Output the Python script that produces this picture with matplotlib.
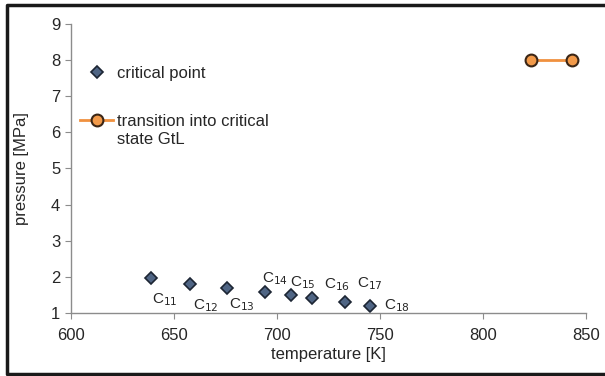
import matplotlib
matplotlib.use("Agg")
import matplotlib.pyplot as plt
from matplotlib.lines import Line2D

plt.rcParams['font.family'] = ['Liberation Sans', 'DejaVu Sans']

# critical points of n-alkanes
temps = [639, 658, 676, 694, 707, 717, 733, 745]
press = [1.97, 1.81, 1.69, 1.59, 1.49, 1.41, 1.31, 1.20]
names = ["11", "12", "13", "14", "15", "16", "17", "18"]
# label offsets in pixels (dx, dy)
offs = [(1, -22), (3, -22), (2, -17), (-3, 13), (-1, 12), (12, 13), (12, 18), (14, 0)]

# transition into critical state GtL
gtl_t = [823, 843]
gtl_p = [8.0, 8.0]

fig = plt.figure(figsize=(6.05, 3.76), dpi=100)
ax = fig.add_axes([0.117, 0.168, 0.852, 0.768])

ax.plot(temps, press, linestyle="none", marker="D", markersize=6,
        markerfacecolor="#4f6584", markeredgecolor="#1c2533", markeredgewidth=1.2,
        label="critical point")
ax.plot(gtl_t, gtl_p, color="#f0913f", linewidth=2, marker="o", markersize=8.5,
        markerfacecolor="#f29a4a", markeredgecolor="#3b2616", markeredgewidth=1.5,
        label="transition into critical")

for t, p, n, (dx, dy) in zip(temps, press, names, offs):
    ax.annotate("C$_{" + n + "}$", (t, p), xytext=(dx, dy), textcoords="offset pixels",
                ha="left", va="center", fontsize=11, color="#262626")

ax.set_xlim(600, 850)
ax.set_ylim(1, 9)
ax.set_xticks([600, 650, 700, 750, 800, 850])
ax.set_yticks(range(1, 10))
ax.set_xlabel("temperature [K]", fontsize=12, color="#262626", labelpad=3)
ax.set_ylabel("pressure [MPa]", fontsize=12, color="#262626", labelpad=16)

for s in ["top", "right"]:
    ax.spines[s].set_visible(False)
for s in ["left", "bottom"]:
    ax.spines[s].set_color("#8c8c8c")
    ax.spines[s].set_linewidth(1)
ax.tick_params(colors="#8c8c8c", labelcolor="#262626", labelsize=12, length=4, direction="out")
ax.tick_params(axis="x", pad=7)

leg = ax.legend(loc="upper left", bbox_to_anchor=(0.0, 0.886), frameon=False, fontsize=12,
                handlelength=2.0, labelspacing=1.95, handletextpad=0.25, borderaxespad=0.3,
                borderpad=0.25)
for txt in leg.get_texts():
    txt.set_color("#262626")

# second line of the GtL legend entry, placed under the first line
fig.canvas.draw()
bb = leg.get_texts()[1].get_window_extent()
fig.text(bb.x0, bb.y0 - 3, "state GtL", transform=None, ha="left", va="top",
         fontsize=12, color="#262626")

# outer frame (left, top, bottom; right edge is cut off in the original)
fig.add_artist(Line2D([1.0, 0.012, 0.012, 1.0], [0.986, 0.986, 0.004, 0.004],
                      transform=fig.transFigure, color="#1a1a1a", linewidth=2.5))

fig.savefig("out.png", dpi=100)
